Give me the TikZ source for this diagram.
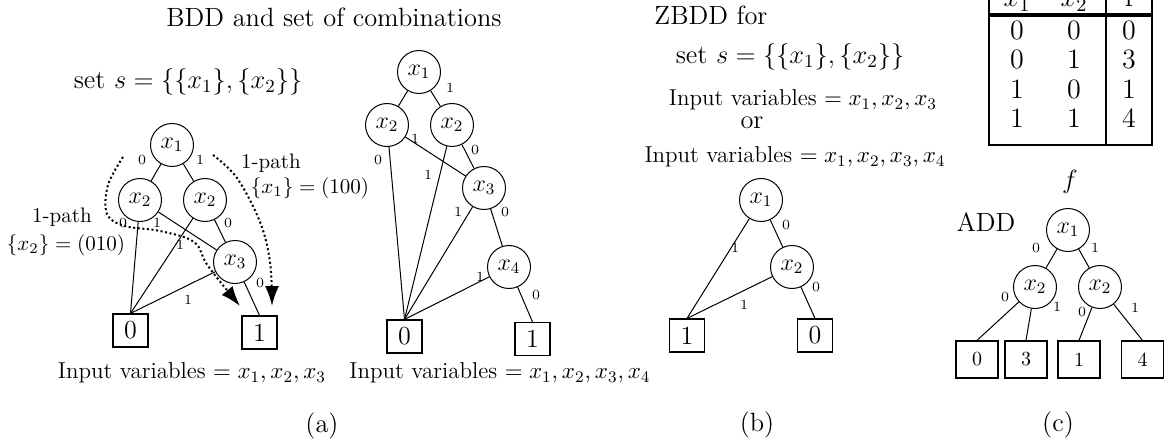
\documentclass[tikz,border=0pt]{standalone}
\usepackage{fix-cm}
\usetikzlibrary{arrows.meta}
\tikzset{
  x=0.5pt, y=-0.5pt,
  vnode/.style={circle, draw, line width=0.5pt, minimum size=21.5pt, inner sep=0pt, font=\fontsize{12}{14}\selectfont},
  tnode/.style={rectangle, draw, line width=0.6pt, minimum width=17.5pt, minimum height=16.5pt, inner sep=0pt, font=\fontsize{13}{15}\selectfont},
  anode/.style={rectangle, draw, line width=0.6pt, minimum width=21pt, minimum height=18.5pt, inner sep=0pt, font=\fontsize{10}{12}\selectfont},
  elab/.style={font=\fontsize{7}{8}\selectfont, inner sep=0pt},
  bigtxt/.style={font=\fontsize{13.2}{15}\selectfont, inner sep=0pt},
  midtxt/.style={font=\fontsize{11.5}{13}\selectfont, inner sep=0pt},
  pathlab/.style={font=\fontsize{10.5}{12}\selectfont, inner sep=0pt},
  tabtxt/.style={font=\fontsize{14}{16}\selectfont, inner sep=0pt},
  conn/.style={line width=0.5pt},
  tabline/.style={line width=1.2pt},
  dotarrow/.style={line width=1pt, dash pattern=on 1pt off 1.3pt, -{Latex[length=10pt,width=7pt]}},
}
\begin{document}
\begin{tikzpicture}
\useasboundingbox (0,0) rectangle (1168,444);

% ---------- panel (a): titles ----------
\node[bigtxt] (titleA) at (334,17) {BDD and set of combinations};
\node[bigtxt] (setA) at (188,82) {set $s=\{\{x_1\},\{x_2\}\}$};

% ---------- left BDD ----------
\node[vnode] (a1) at (172,145) {$x_1$};
\node[vnode] (a2) at (140,200) {$x_2$};
\node[vnode] (a3) at (205,200) {$x_2$};
\node[vnode] (a4) at (235,262) {$x_3$};
\node[tnode] (a0) at (130.5,330.5) {0};
\node[tnode] (a5) at (259.5,332.5) {1};

\draw[conn] (a1) -- (a2);
\draw[conn] (a1) -- (a3);
\draw[conn] (a2) -- (a0.north);
\draw[conn] (a2) -- (a4);
\draw[conn] (a3) -- (a0.north);
\draw[conn] (a3) -- (a4);
\draw[conn] (a4) -- (a0.north);
\draw[conn] (a4) -- (a5.north);

\node[elab] (la1) at (142,160) {0};
\node[elab] (la2) at (200,160) {1};
\node[elab] (la3) at (123,223) {0};
\node[elab] (la4) at (157,223) {1};
\node[elab] (la5) at (180,245) {1};
\node[elab] (la6) at (228,223) {0};
\node[elab] (la7) at (188,300) {1};
\node[elab] (la8) at (260,283) {0};

% 1-path labels
\node[pathlab] (p1a) at (271,163) {1-path};
\node[pathlab] (p1b) at (310,188) {$\{x_1\}=(100)$};
\node[pathlab] (p2a) at (62,217) {1-path};
\node[pathlab] (p2b) at (66,245) {$\{x_2\}=(010)$};

% dotted arrows
\coordinate (r1) at (213,155);
\coordinate (r2) at (237,178);
\coordinate (r3) at (260,222);
\coordinate (r4) at (270,262);
\coordinate (r5) at (272,306);
\draw[dotarrow] plot[smooth, tension=0.6] coordinates {(r1) (r2) (r3) (r4) (r5)};

\coordinate (q1) at (123,157);
\coordinate (q2) at (108,185);
\coordinate (q3) at (107,214);
\coordinate (q4) at (125,226);
\coordinate (q5) at (160,231);
\coordinate (q6) at (194,242);
\coordinate (q7) at (208,266);
\coordinate (q8) at (240,306);
\draw[dotarrow] plot[smooth, tension=0.6] coordinates {(q1) (q2) (q3) (q4) (q5) (q6) (q7) (q8)};

% ---------- second BDD ----------
\node[vnode] (b1) at (419,72) {$x_1$};
\node[vnode] (b2) at (387,125) {$x_2$};
\node[vnode] (b3) at (452,125) {$x_2$};
\node[vnode] (b4) at (484,188) {$x_3$};
\node[vnode] (b5) at (509,267) {$x_4$};
\node[tnode] (b0) at (404.5,336.5) {0};
\node[tnode] (b6) at (532.5,339) {1};

\draw[conn] (b1) -- (b2);
\draw[conn] (b1) -- (b3);
\draw[conn] (b2) -- (b0.north);
\draw[conn] (b2) -- (b4);
\draw[conn] (b3) -- (b0.north);
\draw[conn] (b3) -- (b4);
\draw[conn] (b4) -- (b0.north);
\draw[conn] (b4) -- (b5);
\draw[conn] (b5) -- (b0.north);
\draw[conn] (b5) -- (b6.north);

\node[elab] (lb1) at (450,88) {1};
\node[elab] (lb2) at (415,139) {1};
\node[elab] (lb3) at (378,160) {0};
\node[elab] (lb4) at (428,175) {1};
\node[elab] (lb5) at (475,150) {0};
\node[elab] (lb6) at (458,212) {1};
\node[elab] (lb7) at (505,212) {0};
\node[elab] (lb8) at (480,277) {1};
\node[elab] (lb9) at (536,295) {0};

\node[midtxt] (ivA1) at (192,373) {Input variables $=x_1,x_2,x_3$};
\node[midtxt] (ivA2) at (500,373) {Input variables $=x_1,x_2,x_3,x_4$};
\node[bigtxt] (capA) at (322,426) {(a)};

% ---------- panel (b): ZBDD ----------
\node[bigtxt] (zt1) at (711,15) {ZBDD for};
\node[bigtxt] (zt2) at (790,57) {set $s=\{\{x_1\},\{x_2\}\}$};
\node[midtxt] (zt3) at (803,100) {Input variables $=x_1,x_2,x_3$};
\node[bigtxt] (zt4) at (752,123) {or};
\node[midtxt] (zt5) at (795,157) {Input variables $=x_1,x_2,x_3,x_4$};

\node[vnode] (c1) at (761,200) {$x_1$};
\node[vnode] (c2) at (792,267) {$x_2$};
\node[tnode] (c0) at (687,335.5) {1};
\node[tnode] (c9) at (815,335.5) {0};

\draw[conn] (c1) -- (c2);
\draw[conn] (c1) -- (c0.north);
\draw[conn] (c2) -- (c0.north);
\draw[conn] (c2) -- (c9.north);

\node[elab] (lc1) at (786,225) {0};
\node[elab] (lc2) at (735,248) {1};
\node[elab] (lc3) at (744,305) {1};
\node[elab] (lc4) at (816,287) {0};

\node[bigtxt] (capB) at (757,425) {(b)};

% ---------- panel (c): table and ADD ----------
\draw[tabline] (989,-10) -- (989,145) -- (1152,145) -- (1152,-10);
\draw[tabline] (1106,-10) -- (1106,145);
\draw[line width=1.6pt] (989,15) -- (1152,15);

\node[tabtxt, anchor=base] (h1) at (1017,7) {$x_1$};
\node[tabtxt, anchor=base] (h2) at (1074,7) {$x_2$};
\node[tabtxt, anchor=base] (h3) at (1129,7) {f};

\node[tabtxt] (t11) at (1017,30) {0};
\node[tabtxt] (t12) at (1074,30) {0};
\node[tabtxt] (t13) at (1129,30) {0};
\node[tabtxt] (t21) at (1017,59.5) {0};
\node[tabtxt] (t22) at (1074,59.5) {1};
\node[tabtxt] (t23) at (1129,59.5) {3};
\node[tabtxt] (t31) at (1017,89) {1};
\node[tabtxt] (t32) at (1074,89) {0};
\node[tabtxt] (t33) at (1129,89) {1};
\node[tabtxt] (t41) at (1017,118) {1};
\node[tabtxt] (t42) at (1074,118) {1};
\node[tabtxt] (t43) at (1129,118) {4};

\node[bigtxt] (fl) at (1070,182) {$f$};
\node[bigtxt] (addl) at (986,222) {ADD};

\node[vnode] (d1) at (1068,230) {$x_1$};
\node[vnode] (d2) at (1035,287) {$x_2$};
\node[vnode] (d3) at (1100,287) {$x_2$};
\node[anode] (e0) at (977,359.5) {0};
\node[anode] (e3) at (1026,359.5) {3};
\node[anode] (e1) at (1079,359.5) {1};
\node[anode] (e4) at (1142.5,359.5) {4};

\draw[conn] (d1) -- (d2);
\draw[conn] (d1) -- (d3);
\draw[conn] (d2) -- (e0.north);
\draw[conn] (d2) -- (e3.north);
\draw[conn] (d3) -- (e1.north);
\draw[conn] (d3) -- (e4.north);

\node[elab] (ld1) at (1036,248) {0};
\node[elab] (ld2) at (1095,248) {1};
\node[elab] (ld3) at (1005,297) {0};
\node[elab] (ld4) at (1057,307) {1};
\node[elab] (ld5) at (1082,312) {0};
\node[elab] (ld6) at (1135,308) {1};

\node[bigtxt] (capC) at (1058,425) {(c)};
\end{tikzpicture}
\end{document}
